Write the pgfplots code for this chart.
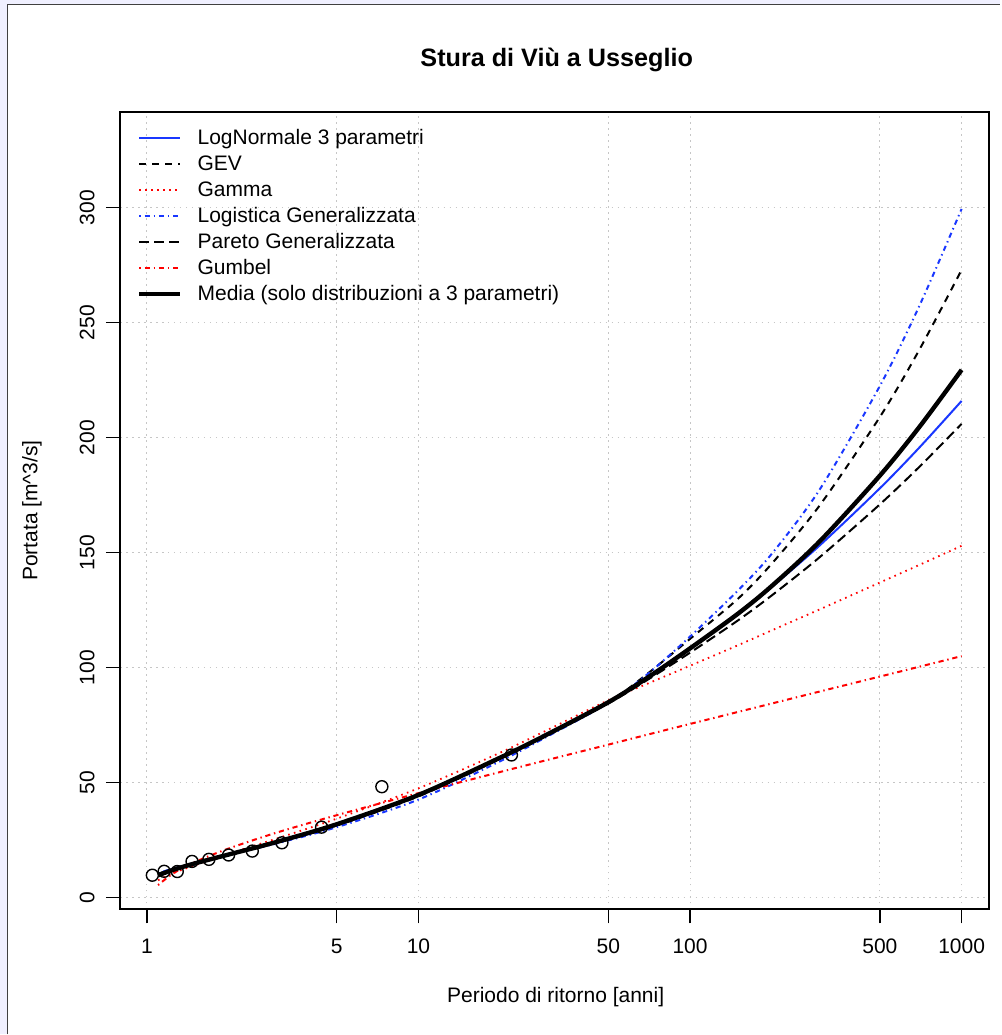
\documentclass[border=0pt]{standalone}
\usepackage{fontspec}
\setmainfont{Liberation Sans}
\usepackage{pgfplots}
\pgfplotsset{compat=1.18}
\usepackage{pgfplotstable}

\definecolor{rblue}{RGB}{25,55,255}
\definecolor{rred}{RGB}{255,0,0}

% quantili stimati (T in anni, portata in m^3/s)
\pgfplotstableread{
T     LN3    GEV    P3     GLO    GPA    GUM    MED
1.1   10.2   10.3   7.5    10.6   9.8    5.4    9.68
1.25  12.4   12.4   10.6   12.6   12.2   10.5   12.04
1.5   15.0   15.0   14.0   15.1   15.0   15.4   14.82
2     18.6   18.6   19.0   18.6   18.7   21.3   18.70
3     23.8   23.8   25.6   23.5   24.0   28.2   24.14
5     31.4   31.3   34.3   30.6   31.7   35.8   31.86
10    44.3   44.0   47.5   42.6   44.6   45.4   44.60
20    60.8   60.3   63.0   59.3   60.8   54.6   60.84
30    71.0   70.6   73.0   70.2   70.8   59.9   71.12
50    85.0   84.8   85.8   84.6   84.4   66.5   84.92
70    96.0   97.5   93.1   97.3   94.8   70.9   95.74
100   108.5  112.5  100.8  113.5  106.5  75.5   108.36
150   123.5  129.9  109.7  133.5  120.5  80.7   123.42
200   135.2  145.2  116.2  149.5  131.4  84.4   135.50
300   153.1  170.5  125.3  177.4  148.0  89.6   154.86
500   178.0  209.0  137.0  222.5  171.0  96.1   183.50
700   195.8  238.4  144.7  257.5  187.4  100.4  204.76
1000  216.0  273.0  153.0  299.5  206.0  105.0  229.50
}\quantili

% portate osservate
\pgfplotstableread{
T       Q
1.0476  9.7
1.1579  11.4
1.2941  11.3
1.4667  15.7
1.6923  16.6
2.0     18.5
2.4444  20.2
3.1429  23.8
4.4     30.6
7.3333  48.2
22      62.0
}\osservati

\begin{document}
\begin{tikzpicture}
\fill[blue!6!white] (0pt,0pt) rectangle (500.5pt,517.5pt);
\fill[white] (4pt,0pt) rectangle (500.5pt,515pt);
\draw[black!75, line width=0.6pt] (3.8pt,0pt) -- (3.8pt,515.2pt) -- (500.5pt,515.2pt);
\useasboundingbox (0pt,0pt) rectangle (500.5pt,517.5pt);

\begin{axis}[
    at={(60pt,62.5pt)}, anchor=south west,
    scale only axis, width=435pt, height=399pt,
    xmode=log,
    xmin=0.796, xmax=1266,
    ymin=-5.2, ymax=341.7,
    xtick={1,5,10,50,100,500,1000},
    xticklabels={1,5,10,50,100,500,1000},
    xminorticks=false,
    ytick={0,50,...,300},
    grid=major,
    major grid style={gray!45, line width=0.5pt, dash pattern=on 0.8pt off 2.2pt},
    axis line style={line width=1pt},
    tick align=outside, major tick length=7pt,
    tick style={black, line width=0.7pt},
    xtick pos=bottom, ytick pos=left,
    tick label style={font=\fontsize{10.5}{12}\selectfont, inner sep=0pt},
    /pgf/number format/assume math mode=true,
    xticklabel style={anchor=north, text height=7.6pt},
    yticklabel style={rotate=90, anchor=south},
    xticklabel shift=7pt,
    yticklabel shift=5.5pt,
    legend cell align=left,
    legend style={draw=none, fill=none, inner sep=0pt,
        at={(0.0195,0.9795)}, anchor=north west,
        font=\fontsize{10.5}{12}\selectfont,
        row sep=3pt, column sep=7.5pt,
        nodes={inner sep=0pt, text height=8pt, text depth=2pt}},
    legend image code/.code={\draw[#1] (0pt,0.4pt) -- (20.5pt,0.4pt);},
]

\addplot[only marks, mark=o, mark size=3pt, mark options={line width=0.7pt, black}, forget plot]
    table[x=T, y=Q] {\osservati};

\addplot[rblue, line width=1pt, smooth] table[x=T, y=LN3] {\quantili};
\addlegendentry{LogNormale 3 parametri}
\addplot[black, line width=1pt, smooth, dash pattern=on 3.5pt off 3pt] table[x=T, y=GEV] {\quantili};
\addlegendentry{GEV}
\addplot[rred, line width=0.9pt, smooth, dash pattern=on 0.8pt off 2.2pt] table[x=T, y=P3] {\quantili};
\addlegendentry{Gamma}
\addplot[rblue, line width=1pt, smooth, dash pattern=on 0.7pt off 1.9pt on 2.6pt off 1.9pt] table[x=T, y=GLO] {\quantili};
\addlegendentry{Logistica Generalizzata}
\addplot[black, line width=1pt, smooth, dash pattern=on 5pt off 2.5pt] table[x=T, y=GPA] {\quantili};
\addlegendentry{Pareto Generalizzata}
\addplot[rred, line width=1pt, smooth, dash pattern=on 0.7pt off 1.9pt on 2.6pt off 1.9pt] table[x=T, y=GUM] {\quantili};
\addlegendentry{Gumbel}
\addplot[black, line width=2.2pt, smooth] table[x=T, y=MED] {\quantili};
\addlegendentry{Media (solo distribuzioni a 3 parametri)}
\end{axis}

\node[font=\bfseries\fontsize{12.6}{14}\selectfont] at (278.5pt,487.5pt) {Stura di Viù a Usseglio};
\node[font=\fontsize{10.5}{12}\selectfont] at (278pt,18.5pt) {Periodo di ritorno [anni]};
\node[font=\fontsize{10.5}{12}\selectfont, rotate=90] at (16pt,262pt) {Portata [m\textasciicircum 3/s]};
\end{tikzpicture}
\end{document}
